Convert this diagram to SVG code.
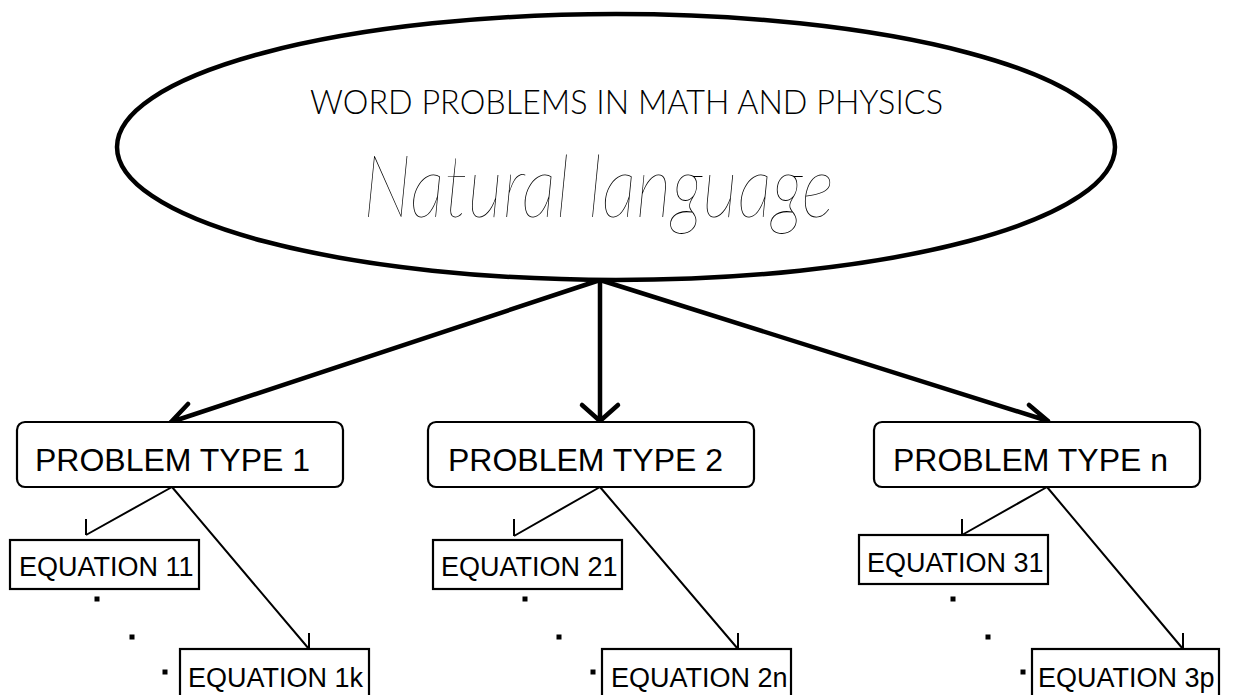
<svg xmlns="http://www.w3.org/2000/svg" width="1234" height="695" viewBox="0 0 1234 695">
<style>
.thick{fill:none;stroke:#000;stroke-width:4.5;stroke-linecap:round;stroke-linejoin:round}
.thin{fill:none;stroke:#000;stroke-width:2}
.ptype{fill:#fff;stroke:#000;stroke-width:2.2}
.eqbox{fill:#fff;stroke:#000;stroke-width:2.2}
.pt{font-family:"Liberation Sans",Arial,sans-serif;font-size:32px;fill:#000}
.eq{font-family:"Liberation Sans",Arial,sans-serif;font-size:27px;fill:#000}
.dot{fill:#000}
</style>
<rect width="1234" height="695" fill="#fff"/>
<g id="connectors">
<path class="thick" d="M600,280 L171,422 M188,404 L171,422"/>
<path class="thick" d="M600,280 L600,421 M582,405 L600,421 L618,405"/>
<path class="thick" d="M600,280 L1048,421 M1029,405 L1048,421"/>
<path class="thin" d="M172,487 L86,535 M86,519 L86,535"/>
<path class="thin" d="M172,487 L309,649 M309,633 L309,649"/>
<path class="thin" d="M600,487 L514,536 M514,519 L514,536"/>
<path class="thin" d="M600,487 L738,649 M738,633 L738,649"/>
<path class="thin" d="M1047,487 L962,535 M962,519 L962,535"/>
<path class="thin" d="M1047,487 L1183,649 M1183,633 L1183,649"/>
</g>
<g id="root">
<ellipse cx="616" cy="147" rx="499" ry="133" fill="#fff" stroke="#000" stroke-width="4.5"/>
<text x="310" y="114" textLength="633" lengthAdjust="spacingAndGlyphs" style="font-family:Lato,'Open Sans',sans-serif;font-weight:300;font-size:33px" fill="#000">WORD PROBLEMS IN MATH AND PHYSICS</text>
<text x="363" y="217" textLength="471" lengthAdjust="spacingAndGlyphs" style="font-family:Lato,'Open Sans',sans-serif;font-weight:100;font-style:italic;font-size:86px" fill="#000">Natural language</text>
</g>
<g id="type1">
<rect class="ptype" x="17" y="422" width="326" height="65" rx="8"/>
<text class="pt" x="35" y="471">PROBLEM TYPE 1</text>
</g>
<g id="type2">
<rect class="ptype" x="428" y="422" width="326" height="65" rx="8"/>
<text class="pt" x="448" y="471">PROBLEM TYPE 2</text>
</g>
<g id="typen">
<rect class="ptype" x="874" y="422" width="326" height="65" rx="8"/>
<text class="pt" x="893" y="471">PROBLEM TYPE n</text>
</g>
<g id="eq11">
<rect class="eqbox" x="10" y="540" width="189" height="49"/>
<text class="eq" x="19" y="576">EQUATION 11</text>
</g>
<g id="eq1k">
<rect class="eqbox" x="180" y="649" width="189" height="60"/>
<text class="eq" x="188" y="687">EQUATION 1k</text>
</g>
<g id="eq21">
<rect class="eqbox" x="433" y="540" width="189" height="49"/>
<text class="eq" x="441" y="576">EQUATION 21</text>
</g>
<g id="eq2n">
<rect class="eqbox" x="602" y="649" width="189" height="60"/>
<text class="eq" x="611" y="687">EQUATION 2n</text>
</g>
<g id="eq31">
<rect class="eqbox" x="859" y="535" width="189" height="49"/>
<text class="eq" x="867" y="572">EQUATION 31</text>
</g>
<g id="eq3p">
<rect class="eqbox" x="1032" y="649" width="187" height="60"/>
<text class="eq" x="1038" y="687">EQUATION 3p</text>
</g>
<g id="dots">
<rect class="dot" x="94.5" y="596.5" width="5" height="5"/>
<rect class="dot" x="129.5" y="634.5" width="5" height="5"/>
<rect class="dot" x="162.5" y="669.5" width="5" height="5"/>
<rect class="dot" x="522.5" y="596.5" width="5" height="5"/>
<rect class="dot" x="556.5" y="634.5" width="5" height="5"/>
<rect class="dot" x="590.5" y="669.5" width="5" height="5"/>
<rect class="dot" x="950.5" y="596.5" width="5" height="5"/>
<rect class="dot" x="985.5" y="634.5" width="5" height="5"/>
<rect class="dot" x="1020.5" y="669.5" width="5" height="5"/>
</g>
</svg>
